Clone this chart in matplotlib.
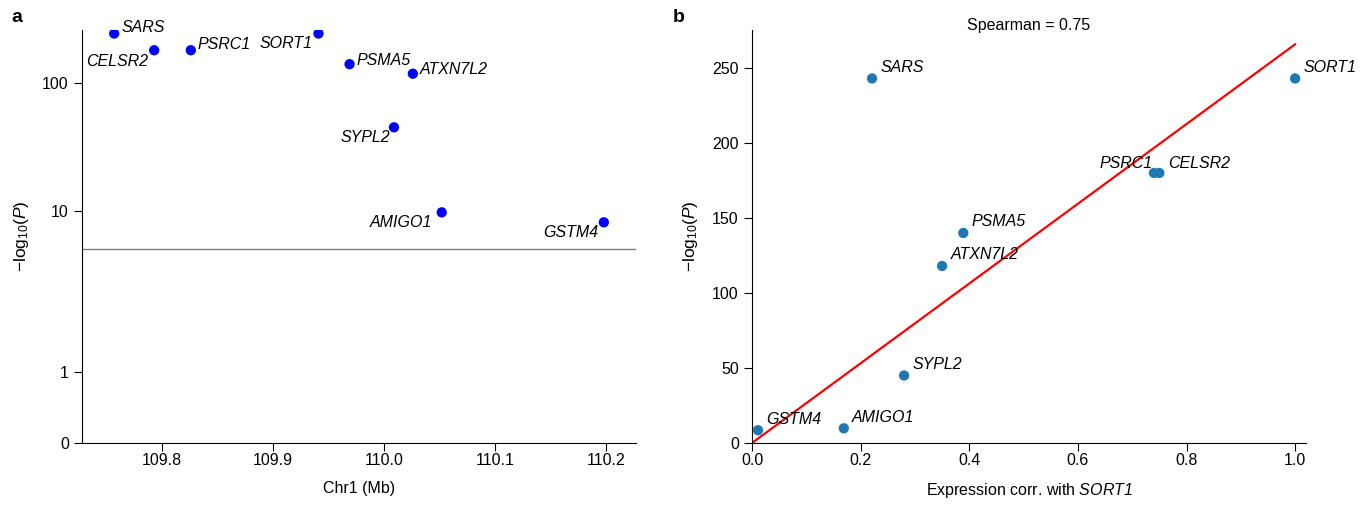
"""
Chr1 locus: -log10(P) by position (a) and vs expression corr. with SORT1 (b)
"""

import numpy as np
import matplotlib.pyplot as plt

plt.rcParams['font.family'] = ['Liberation Sans', 'DejaVu Sans']
plt.rcParams['mathtext.fontset'] = 'custom'
plt.rcParams['mathtext.rm'] = 'Liberation Sans'
plt.rcParams['mathtext.it'] = 'Liberation Sans:italic'
plt.rcParams['mathtext.sf'] = 'Liberation Sans:italic'   #> italic digits too
plt.rcParams['font.size'] = 11.5

#> Data
genes     = ['SARS', 'CELSR2', 'PSRC1', 'SORT1', 'PSMA5', 'ATXN7L2', 'SYPL2', 'AMIGO1', 'GSTM4']
chr_pos   = [109.757, 109.793, 109.826, 109.941, 109.969, 110.026, 110.009, 110.052, 110.198]
neglogp   = [243, 180, 180, 243, 140, 118, 45, 9.8, 8.5]
expr_corr = [0.221, 0.750, 0.740, 1.000, 0.389, 0.350, 0.280, 0.169, 0.011]
threshold = 5.8
spearman  = 0.75

left_ticks = [0, 1, 10, 100]
right_xticks = [0.0, 0.2, 0.4, 0.6, 0.8, 1.0]
right_yticks = [0, 50, 100, 150, 200, 250]

#> label offsets (points) for each gene, panel a / panel b
off_a = {'SARS': (5, 4, 'left'), 'CELSR2': (-4, -8, 'right'), 'PSRC1': (5, 4, 'left'),
         'SORT1': (-4, -7, 'right'), 'PSMA5': (5, 3, 'left'), 'ATXN7L2': (5, 3, 'left'),
         'SYPL2': (-3, -7, 'right'), 'AMIGO1': (-7, -7, 'right'), 'GSTM4': (-4, -7, 'right')}
off_b = {g: (6, 8, 'left') for g in genes}
off_b['PSRC1'] = (-1, 7, 'right')
off_b['CELSR2'] = (6, 7, 'left')


#> y scale of panel a: linear 0-1, log 1-10, compressed log above 10
A0, S_HI = 0.441, 0.795

def fwd(y):
    y = np.asarray(y, float)
    ly = np.log10(np.maximum(y, 1e-12))
    return np.where(y < 1, y * A0, np.where(y < 10, A0 + ly, A0 + 1 + S_HI * (ly - 1)))

def inv(u):
    u = np.asarray(u, float)
    return np.where(u < A0, u / A0,
                    np.where(u < A0 + 1, 10 ** np.clip(u - A0, -10, 10),
                             10 ** np.clip(1 + (u - A0 - 1) / S_HI, -10, 10)))


W, H = 1371, 508
fig = plt.figure(figsize=(W / 100, H / 100), dpi=100)
ax1 = fig.add_axes([82 / W, 65 / H, 554 / W, 413 / H])
ax2 = fig.add_axes([752 / W, 65 / H, 554 / W, 413 / H])

for ax in (ax1, ax2):
    ax.spines['top'].set_visible(False)
    ax.spines['right'].set_visible(False)
    ax.tick_params(direction='out', length=5.5, width=0.8, labelsize=11.5)
    ax.tick_params(axis='x', pad=2)
    ax.tick_params(axis='y', pad=4)

#> Panel a
ax1.set_yscale('function', functions=(fwd, inv))
ax1.axhline(threshold, color='#7f7f7f', lw=1.0, zorder=1)
ax1.scatter(chr_pos, neglogp, s=55, color='#0000ff', edgecolor='none', zorder=3)
for g, x, y in zip(genes, chr_pos, neglogp):
    dx, dy, ha = off_a[g]
    ax1.annotate(g, (x, y), xytext=(dx, dy), textcoords='offset points',
                 ha=ha, va='center', style='italic', fontsize=11.5)
ax1.set_xlim(109.728, 110.227)
ax1.set_ylim(0, 259)
ax1.set_yticks(left_ticks)
ax1.set_yticklabels([str(t) for t in left_ticks])
ax1.yaxis.set_minor_locator(plt.NullLocator())
ax1.set_xticks([109.8, 109.9, 110.0, 110.1, 110.2])
ax1.set_xticklabels(['109.8', '109.9', '110.0', '110.1', '110.2'])
ax1.set_xlabel('Chr1 (Mb)', labelpad=9)
ax1.set_ylabel(r'$-$log$_{10}$($P$)', labelpad=8, fontsize=12.5)

#> Panel b
x = np.array(expr_corr)
y = np.array(neglogp)
slope = (x * y).sum() / (x * x).sum()   #> fit through origin
xf = np.array([0.0, 1.0])
ax2.plot(xf, slope * xf, color='red', lw=1.6, zorder=2)
ax2.scatter(expr_corr, neglogp, s=55, color='#1f77b4', edgecolor='none', zorder=3)
for g, xx, yy in zip(genes, expr_corr, neglogp):
    dx, dy, ha = off_b[g]
    ax2.annotate(g, (xx, yy), xytext=(dx, dy), textcoords='offset points',
                 ha=ha, va='center', style='italic', fontsize=11.5)
ax2.set_xlim(0, 1.02)
ax2.set_ylim(0, 275.3)
ax2.set_xticks(right_xticks)
ax2.set_xticklabels(['%.1f' % t for t in right_xticks])
ax2.set_yticks(right_yticks)
ax2.set_xlabel(r'Expression corr. with $\mathsf{SORT1}$', labelpad=9)
ax2.set_ylabel(r'$-$log$_{10}$($P$)', labelpad=9, fontsize=12.5)
ax2.text(0.5, 1.012, 'Spearman = %.2f' % spearman, transform=ax2.transAxes,
         ha='center', va='center', fontsize=11.5)

#> panel letters
fig.text(11 / W, 1 - 18 / H, 'a', fontweight='bold', fontsize=14, va='center')
fig.text(673 / W, 1 - 18 / H, 'b', fontweight='bold', fontsize=14, va='center')

fig.savefig('out.png', dpi=100)
